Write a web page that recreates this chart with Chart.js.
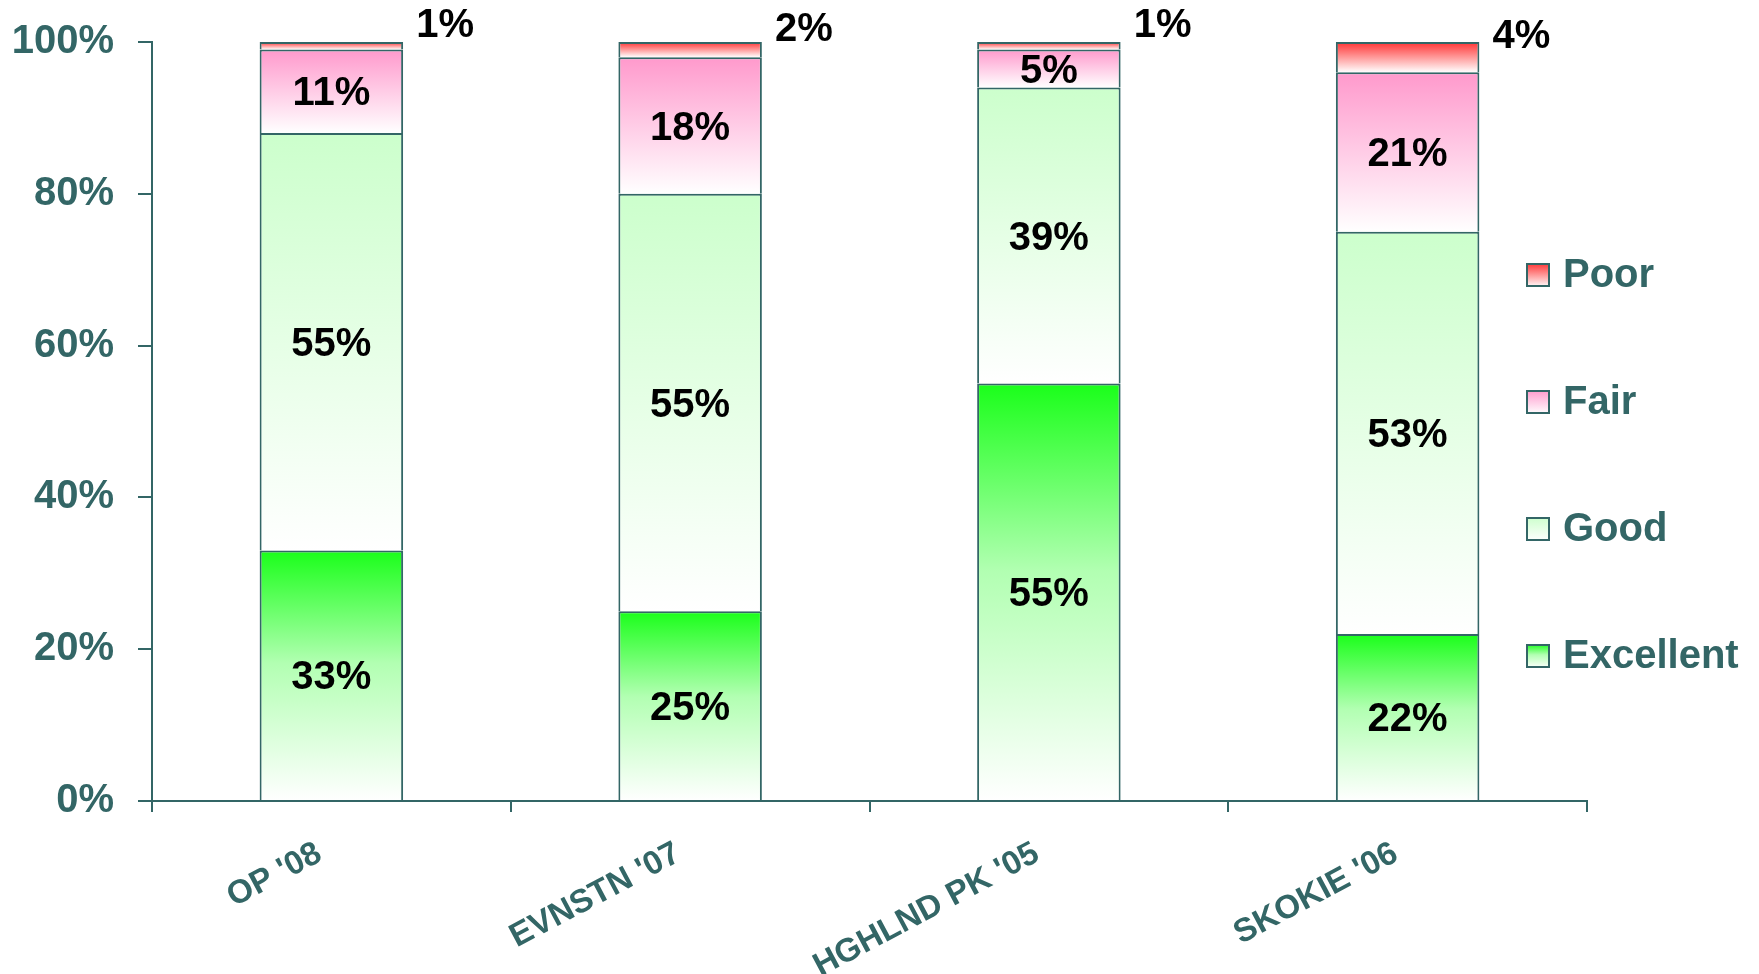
<!doctype html>
<html lang="en">
<head>
  <meta charset="utf-8">
  <title>Ratings</title>
  <script src="https://cdn.jsdelivr.net/npm/chart.js@4.4.1/dist/chart.umd.min.js"></script>
  <style>
    html, body { margin: 0; padding: 0; background: #fff; }
  </style>
</head>
<body>
  <canvas id="ratingChart" width="1759" height="974"></canvas>

  <script>
    // chart data
    var categories = ["OP '08", "EVNSTN '07", "HGHLND PK '05", "SKOKIE '06"];
    var excellent = [33, 25, 55, 22];
    var good = [55, 55, 39, 53];
    var fair = [11, 18, 5, 21];
    var poor = [1, 2, 1, 4];
    var yTicks = [0, 20, 40, 60, 80, 100];

    var teal = '#336666';
    var fontFamily = '"Liberation Sans", Arial, sans-serif';

    // top colour of each segment gradient (fades to white at the bottom)
    var topColors = ['#1aff1a', '#ccffcc', '#ff99cc', '#ff3333'];

    function makeGradient(c, top, y0, y1, idx) {
      var g = c.createLinearGradient(0, y0, 0, y1);
      g.addColorStop(0, top);
      if (idx === 0) g.addColorStop(0.45, '#b2ffb2');
      if (idx === 2) g.addColorStop(0.5, '#ffcce6');
      g.addColorStop(1, '#ffffff');
      return g;
    }

    function segFill(idx) {
      return function (ctx) {
        var chart = ctx.chart;
        var y = chart.scales.y;
        if (!y || !chart.chartArea || ctx.type !== 'data') return topColors[idx];
        var base = 0;
        for (var d = 0; d < ctx.datasetIndex; d++) base += chart.data.datasets[d].data[ctx.dataIndex];
        var v = chart.data.datasets[ctx.datasetIndex].data[ctx.dataIndex];
        return makeGradient(chart.ctx, topColors[idx], y.getPixelForValue(base + v), y.getPixelForValue(base), idx);
      };
    }

    function makeSet(label, data, idx) {
      return {
        label: label,
        data: data,
        backgroundColor: segFill(idx),
        borderColor: teal,
        borderWidth: { top: 2, left: 2, right: 2, bottom: 0 },
        borderSkipped: false,
        barPercentage: 0.4,
        categoryPercentage: 1.0
      };
    }

    // percentage labels on the segments
    var segmentLabels = {
      id: 'segmentLabels',
      afterDatasetsDraw: function (chart) {
        var c = chart.ctx;
        c.save();
        c.font = 'bold 40px ' + fontFamily;
        c.fillStyle = '#000';
        c.textAlign = 'center';
        c.textBaseline = 'middle';
        chart.data.datasets.forEach(function (ds, di) {
          chart.getDatasetMeta(di).data.forEach(function (bar, i) {
            var txt = ds.data[i] + '%';
            var mid = (bar.y + bar.base) / 2;
            if (di === 3) {
              c.fillText(txt, bar.x + bar.width / 2 + 42, mid - 20);
            } else {
              c.fillText(txt, bar.x, mid + 3);
            }
          });
        });
        c.restore();
      }
    };

    // legend on the right, drawn over the plot area
    var sideLegend = {
      id: 'sideLegend',
      afterDraw: function (chart) {
        var c = chart.ctx;
        var a = chart.chartArea;
        var x = a.right - 61;
        var n = chart.data.datasets.length;
        c.save();
        c.font = 'bold 40px ' + fontFamily;
        c.textBaseline = 'middle';
        c.textAlign = 'left';
        for (var k = 0; k < n; k++) {
          var di = n - 1 - k;
          var yc = a.top + 233 + k * 127;
          c.fillStyle = makeGradient(c, topColors[di], yc - 12, yc + 12, di);
          c.fillRect(x, yc - 12, 24, 24);
          c.strokeStyle = teal;
          c.lineWidth = 2;
          c.strokeRect(x + 1, yc - 11, 22, 22);
          c.fillStyle = teal;
          c.fillText(chart.data.datasets[di].label, x + 37, yc + 1);
        }
        c.restore();
      }
    };

    var chart = new Chart(document.getElementById('ratingChart'), {
      type: 'bar',
      data: {
        labels: categories,
        datasets: [
          makeSet('Excellent', excellent, 0),
          makeSet('Good', good, 1),
          makeSet('Fair', fair, 2),
          makeSet('Poor', poor, 3)
        ]
      },
      options: {
        responsive: false,
        animation: false,
        devicePixelRatio: 1,
        layout: { padding: { left: 12, right: 172, top: 42, bottom: 0 } },
        plugins: {
          legend: { display: false },
          tooltip: { enabled: false }
        },
        scales: {
          x: {
            stacked: true,
            grid: { offset: true, drawOnChartArea: false, drawTicks: true, tickLength: 11, color: teal, lineWidth: 2 },
            border: { display: true, color: teal, width: 2 },
            ticks: {
              color: teal,
              font: { family: fontFamily, size: 33, weight: 'bold' },
              minRotation: 28,
              maxRotation: 28,
              autoSkip: false,
              labelOffset: -12,
              padding: 22
            },
            afterFit: function (s) { s.height = 173; s.paddingLeft = 0; s.paddingRight = 0; }
          },
          y: {
            stacked: true,
            min: 0,
            max: 100,
            afterBuildTicks: function (s) {
              s.ticks = yTicks.map(function (v) { return { value: v }; });
            },
            grid: { drawOnChartArea: false, drawTicks: true, tickLength: 14, color: teal, lineWidth: 2 },
            border: { display: true, color: teal, width: 2 },
            ticks: {
              color: teal,
              font: { family: fontFamily, size: 40, weight: 'bold' },
              padding: 24,
              callback: function (v) { return v + '%'; }
            },
            afterFit: function (s) { s.width = 140; s.paddingTop = 0; s.paddingBottom = 0; }
          }
        }
      },
      plugins: [segmentLabels, sideLegend]
    });
  </script>
</body>
</html>
